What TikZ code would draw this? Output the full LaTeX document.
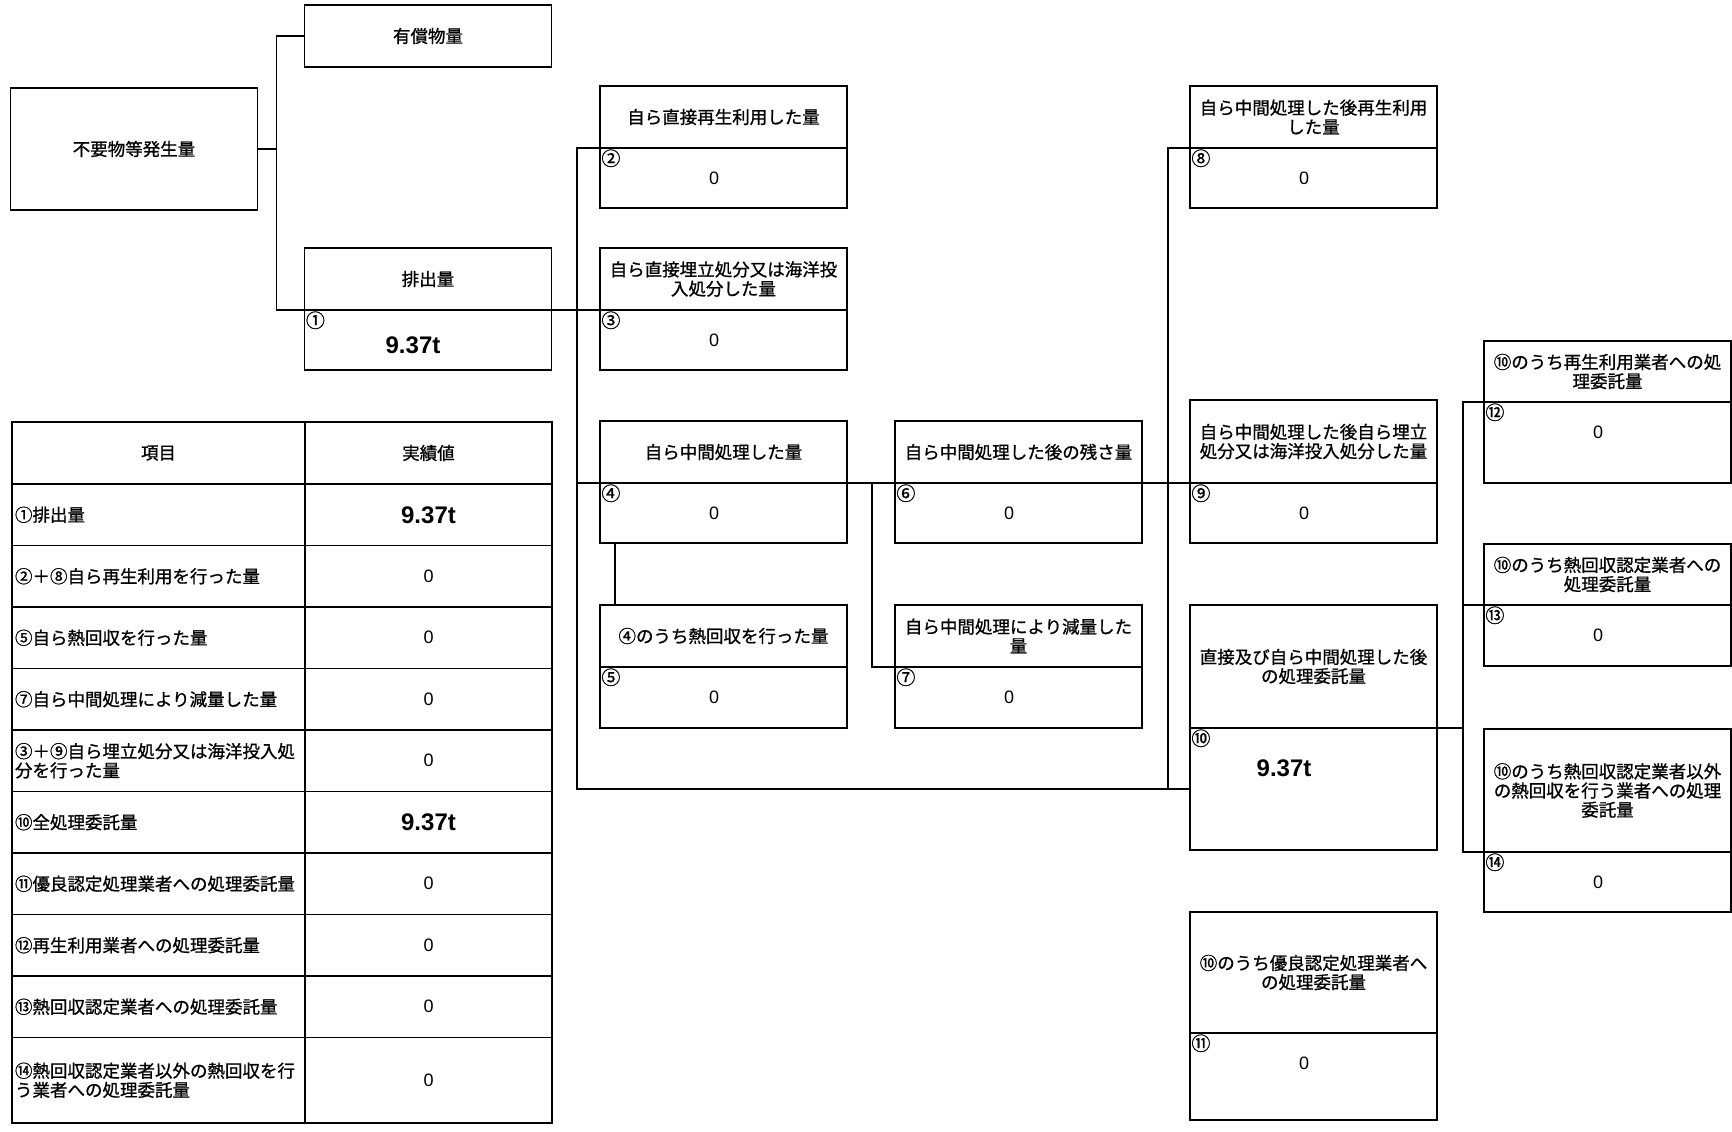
\documentclass[tikz,border=0pt]{standalone}
\usepackage{fontspec}
\usepackage{tikz}
\usetikzlibrary{positioning}
\newfontfamily\jpfont{Noto Sans CJK JP}[FakeBold=1]
\newfontfamily\numfont{Liberation Sans}
\tikzset{
    flow-box/.style = {draw, line width=0.9pt, rectangle, outer sep=0pt, inner sep=2pt, minimum width=123.5pt, align=center, font=\jpfont\fontsize{8.75}{9.6}\selectfont},
    value-box/.style = {flow-box, minimum height=30pt},
    value-text/.style = {font=\numfont\fontsize{9}{10}\selectfont, xshift=-4.7pt, yshift=-15pt},
    total-text/.style = {font=\numfont\bfseries\fontsize{12}{13}\selectfont},
    num-mark/.style = {anchor=north west, inner sep=0.5pt, font=\jpfont\fontsize{9.5}{9.5}\selectfont},
    link/.style = {line width=0.8pt},
    table-item/.style = {draw, line width=0.9pt, outer sep=0pt, inner xsep=1.5pt, text width=143.5pt, align=left, minimum height=30.75pt, font=\jpfont\fontsize{8.75}{9.6}\selectfont},
    table-value/.style = {draw, line width=0.9pt, outer sep=0pt, minimum width=123.5pt, minimum height=30.75pt, font=\numfont\fontsize{9}{10}\selectfont},
}

\begin{document}
\begin{tikzpicture}[x=0.5pt, y=-0.5pt]
\useasboundingbox (0,0) rectangle (1732,1131);
% generated amount
\node[flow-box, minimum height=61pt] (gen) at (134,149) {不要物等発生量};
\node[flow-box, minimum height=31pt] (paid) at (428,36) {有償物量};
\node[flow-box, minimum height=31pt] (t1) at (428,279) {排出量};
\node[value-box, below=0pt of t1] (v1) {};
\node[num-mark] (c1) at (v1.north west) {①};
\node[total-text, xshift=-7.5pt, yshift=-17.5pt] (n1) at (v1.north) {9.37t};

% direct
\node[flow-box, minimum height=31pt] (t2) at (723.5,117) {自ら直接再生利用した量};
\node[value-box, below=0pt of t2] (v2) {};
\node[num-mark] (c2) at (v2.north west) {②};
\node[value-text] (n2) at (v2.north) {0};
\node[flow-box, minimum height=31pt] (t3) at (723.5,279) {自ら直接埋立処分又は海洋投\\入処分した量};
\node[value-box, below=0pt of t3] (v3) {};
\node[num-mark] (c3) at (v3.north west) {③};
\node[value-text] (n3) at (v3.north) {0};
\node[flow-box, minimum height=31pt] (t4) at (723.5,452) {自ら中間処理した量};
\node[value-box, below=0pt of t4] (v4) {};
\node[num-mark] (c4) at (v4.north west) {④};
\node[value-text] (n4) at (v4.north) {0};
\node[flow-box, minimum height=31pt] (t5) at (723.5,636) {④のうち熱回収を行った量};
\node[value-box, minimum height=30.5pt, below=0pt of t5] (v5) {};
\node[num-mark] (c5) at (v5.north west) {⑤};
\node[value-text] (n5) at (v5.north) {0};

% intermediate
\node[flow-box, minimum height=31pt] (t6) at (1018.5,452) {自ら中間処理した後の残さ量};
\node[value-box, below=0pt of t6] (v6) {};
\node[num-mark] (c6) at (v6.north west) {⑥};
\node[value-text] (n6) at (v6.north) {0};
\node[flow-box, minimum height=31pt] (t7) at (1018.5,636) {自ら中間処理により減量した\\量};
\node[value-box, minimum height=30.5pt, below=0pt of t7] (v7) {};
\node[num-mark] (c7) at (v7.north west) {⑦};
\node[value-text] (n7) at (v7.north) {0};

% after intermediate
\node[flow-box, minimum height=31pt] (t8) at (1313.5,117) {自ら中間処理した後再生利用\\した量};
\node[value-box, below=0pt of t8] (v8) {};
\node[num-mark] (c8) at (v8.north west) {⑧};
\node[value-text] (n8) at (v8.north) {0};
\node[flow-box, minimum height=41.5pt] (t9) at (1313.5,441.5) {自ら中間処理した後自ら埋立\\処分又は海洋投入処分した量};
\node[value-box, below=0pt of t9] (v9) {};
\node[num-mark] (c9) at (v9.north west) {⑨};
\node[value-text] (n9) at (v9.north) {0};
\node[flow-box, minimum height=61.5pt] (t10) at (1313.5,666.5) {直接及び自ら中間処理した後\\の処理委託量};
\node[value-box, minimum height=61pt, below=0pt of t10] (v10) {};
\node[num-mark] (c10) at (v10.north west) {⑩};
\node[total-text, xshift=-14.75pt, yshift=-20pt] (n10) at (v10.north) {9.37t};
\node[flow-box, minimum height=60.5pt] (t11) at (1313.5,972.5) {⑩のうち優良認定処理業者へ\\の処理委託量};
\node[value-box, minimum height=43.5pt, below=0pt of t11] (v11) {};
\node[num-mark] (c11) at (v11.north west) {⑪};
\node[value-text] (n11) at (v11.north) {0};

% consignment
\node[flow-box, minimum height=30.5pt] (t12) at (1607.5,371.5) {⑩のうち再生利用業者への処\\理委託量};
\node[value-box, minimum height=40.5pt, below=0pt of t12] (v12) {};
\node[num-mark] (c12) at (v12.north west) {⑫};
\node[value-text] (n12) at (v12.north) {0};
\node[flow-box, minimum height=30.5pt] (t13) at (1607.5,574.5) {⑩のうち熱回収認定業者への\\処理委託量};
\node[value-box, minimum height=30.5pt, below=0pt of t13] (v13) {};
\node[num-mark] (c13) at (v13.north west) {⑬};
\node[value-text] (n13) at (v13.north) {0};
\node[flow-box, minimum height=61.5pt] (t14) at (1607.5,790.5) {⑩のうち熱回収認定業者以外\\の熱回収を行う業者への処理\\委託量};
\node[value-box, below=0pt of t14] (v14) {};
\node[num-mark] (c14) at (v14.north west) {⑭};
\node[value-text] (n14) at (v14.north) {0};

% connectors
\coordinate (k1) at ([xshift=-14pt]v1.north west);
\draw[link] (gen.east) -- (gen.east -| k1);
\draw[link] (paid.west) -| (k1) -- (v1.north west);
\draw[link] (v1.north east) -- (v3.north west);
\coordinate (k2) at ([xshift=-11.5pt]v2.north west);
\draw[link] (v2.north west) -- (k2) |- (v10.west);
\draw[link] (k2 |- v4.north west) -- (v4.north west);
\draw[link] (v4.north east) -- (v6.north west);
\draw[link] (v6.north east) -- (v9.north west);
\draw[link] ([xshift=7.5pt]v4.south west) -- ([xshift=7.5pt]t5.north west);
\coordinate (k3) at ([xshift=-11.5pt]v6.north west);
\draw[link] (k3) |- (v7.north west);
\coordinate (k4) at ([xshift=-11pt]v8.north west);
\draw[link] (v8.north west) -- (k4) -- (k4 |- v10.west);
\coordinate (k5) at ([xshift=-10.5pt]v12.north west);
\draw[link] (v12.north west) -- (k5) |- (v14.north west);
\draw[link] (k5 |- v13.north west) -- (v13.north west);
\draw[link] (v10.north east) -- (k5 |- v10.north east);

% results table
\node[table-item, minimum height=31pt, align=center] (head) at (158.5,453) {項目};
\node[table-value, minimum height=31pt, font=\jpfont\fontsize{8.75}{9.6}\selectfont, right=0pt of head] (head-v) {実績値};
\node[table-item, below=0pt of head] (row1) {①排出量};
\node[table-value, font=\numfont\bfseries\fontsize{12}{13}\selectfont, right=0pt of row1] (row1-v) {9.37t};
\node[table-item, below=0pt of row1] (row2) {②＋⑧自ら再生利用を行った量};
\node[table-value, right=0pt of row2] (row2-v) {0};
\node[table-item, below=0pt of row2] (row3) {⑤自ら熱回収を行った量};
\node[table-value, right=0pt of row3] (row3-v) {0};
\node[table-item, below=0pt of row3] (row4) {⑦自ら中間処理により減量した量};
\node[table-value, right=0pt of row4] (row4-v) {0};
\node[table-item, below=0pt of row4] (row5) {③＋⑨自ら埋立処分又は海洋投入処\\分を行った量};
\node[table-value, right=0pt of row5] (row5-v) {0};
\node[table-item, below=0pt of row5] (row6) {⑩全処理委託量};
\node[table-value, font=\numfont\bfseries\fontsize{12}{13}\selectfont, right=0pt of row6] (row6-v) {9.37t};
\node[table-item, below=0pt of row6] (row7) {⑪優良認定処理業者への処理委託量};
\node[table-value, right=0pt of row7] (row7-v) {0};
\node[table-item, below=0pt of row7] (row8) {⑫再生利用業者への処理委託量};
\node[table-value, right=0pt of row8] (row8-v) {0};
\node[table-item, below=0pt of row8] (row9) {⑬熱回収認定業者への処理委託量};
\node[table-value, right=0pt of row9] (row9-v) {0};
\node[table-item, minimum height=42.75pt, below=0pt of row9] (row10) {⑭熱回収認定業者以外の熱回収を行\\う業者への処理委託量};
\node[table-value, minimum height=42.75pt, right=0pt of row10] (row10-v) {0};
\end{tikzpicture}
\end{document}
